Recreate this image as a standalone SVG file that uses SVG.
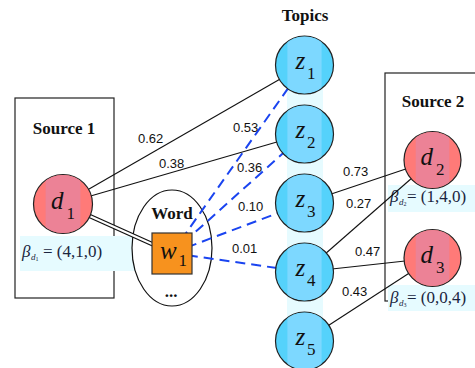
<svg xmlns="http://www.w3.org/2000/svg" width="475" height="368" viewBox="0 0 475 368" font-family="Liberation Serif, serif">
<defs>
<style>
.box{fill:#fff;stroke:#222;stroke-width:1.2}
.hl{fill:#E6FBFF}
.title{font-weight:bold;font-size:17px;fill:#111;text-anchor:middle}
.num{font-family:"Liberation Sans",Arial,sans-serif;font-size:13px;fill:#111}
.solid{stroke:#111;stroke-width:1.1;fill:none}
.dash{stroke:#1A44F0;stroke-width:2;stroke-dasharray:10 6;fill:none}
.dc{fill:#FF7A78;stroke:#222;stroke-width:1.2}
.di{fill:#EC8296}
.zc{fill:#55D2FB;stroke:#222;stroke-width:1.2}
.zi{fill:#7DD8FF}
.lab{font-style:italic;font-size:25px;fill:#111}
.sub{font-size:17px;fill:#111;font-style:normal}
.beta{font-size:17px;fill:#1a2540}
.bsub{font-style:italic;font-size:9px;fill:#1a2540}
.bsub2{font-size:6px;fill:#1a2540}
</style>
<clipPath id="strip" clipPathUnits="objectBoundingBox"><rect x="0.2" y="0" width="0.6" height="1"/></clipPath>
</defs>
<rect x="287" y="60" width="36" height="302" class="hl"/>
<g id="source1">
<rect x="15" y="98" width="99" height="200" class="box"/>
<text x="64" y="134" class="title">Source 1</text>
<rect x="20" y="236" width="125" height="35" class="hl"/>
<text x="22" y="257" class="beta" font-style="italic">β</text>
<text x="31" y="260" class="bsub">d</text>
<text x="35.5" y="261" class="bsub2">1</text>
<text x="43" y="257" class="beta">= (4,1,0)</text>
</g>
<g id="source2">
<rect x="385" y="73" width="100" height="228" class="box"/>
<text x="433" y="107" class="title">Source 2</text>
<rect x="388" y="185" width="90" height="27" class="hl"/>
<text x="390" y="202" class="beta" font-style="italic">β</text>
<text x="399" y="205" class="bsub">d</text>
<text x="403.5" y="206" class="bsub2">2</text>
<text x="407" y="202" class="beta">= (1,4,0)</text>
<rect x="388" y="285" width="90" height="26" class="hl"/>
<text x="390" y="303" class="beta" font-style="italic">β</text>
<text x="399" y="306" class="bsub">d</text>
<text x="403.5" y="307" class="bsub2">3</text>
<text x="407" y="303" class="beta">= (0,0,4)</text>
</g>
<text x="305" y="21" class="title">Topics</text>
<g id="word">
<ellipse cx="172" cy="248" rx="40" ry="58" fill="#fff" stroke="#111" stroke-width="1.2"/>
<text x="172" y="219" class="title">Word</text>
<text x="171" y="297" class="title">...</text>
</g>
<g id="connectors">
<line x1="63" y1="204" x2="304.5" y2="65" class="solid"/>
<line x1="63" y1="204" x2="304.5" y2="134" class="solid"/>
<line x1="63" y1="204" x2="172" y2="253" stroke="#111" stroke-width="4.5"/>
<line x1="63" y1="204" x2="172" y2="253" stroke="#fff" stroke-width="2"/>
<line x1="172" y1="253" x2="304.5" y2="65" class="dash"/>
<line x1="172" y1="253" x2="304.5" y2="134" class="dash"/>
<line x1="172" y1="253" x2="304.5" y2="203" class="dash"/>
<line x1="172" y1="253" x2="304.5" y2="272" class="dash"/>
<line x1="304.5" y1="203" x2="432.5" y2="160" class="solid"/>
<line x1="304.5" y1="272" x2="432.5" y2="160" class="solid"/>
<line x1="304.5" y1="272" x2="432.5" y2="258" class="solid"/>
<line x1="304.5" y1="341" x2="432.5" y2="258" class="solid"/>
<text x="138" y="143" class="num">0.62</text>
<text x="159" y="168" class="num">0.38</text>
<text x="233" y="132" class="num">0.53</text>
<text x="237" y="172" class="num">0.36</text>
<text x="238" y="211" class="num">0.10</text>
<text x="232" y="253" class="num">0.01</text>
<text x="343" y="176" class="num">0.73</text>
<text x="346" y="208" class="num">0.27</text>
<text x="355" y="256" class="num">0.47</text>
<text x="342" y="296" class="num">0.43</text>
</g>
<g id="w1">
<rect x="152" y="233" width="40" height="41" fill="#F7921E" stroke="#333" stroke-width="1.2"/>
<text x="160" y="259" class="lab" font-size="24">w</text>
<text x="178.5" y="266" class="sub" font-size="15">1</text>
</g>
<g id="d1">
<circle cx="63" cy="204" r="29.5" class="dc"/>
<circle cx="63" cy="204" r="29" class="di" clip-path="url(#strip)"/>
<text x="51" y="209" class="lab">d</text>
<text x="66.5" y="219" class="sub">1</text>
</g>
<g id="d2">
<circle cx="432.5" cy="160" r="28.5" class="dc"/>
<circle cx="432.5" cy="160" r="28" class="di" clip-path="url(#strip)"/>
<text x="420.5" y="165" class="lab">d</text>
<text x="436" y="175" class="sub">2</text>
</g>
<g id="d3">
<circle cx="432.5" cy="258" r="28.5" class="dc"/>
<circle cx="432.5" cy="258" r="28" class="di" clip-path="url(#strip)"/>
<text x="420.5" y="263" class="lab">d</text>
<text x="436" y="273" class="sub">3</text>
</g>
<g id="z1">
<circle cx="304.5" cy="65" r="29" class="zc"/>
<circle cx="304.5" cy="65" r="28.5" class="zi" clip-path="url(#strip)"/>
<text x="295.5" y="69" class="lab">z</text>
<text x="307" y="79" class="sub" font-size="16">1</text>
</g>
<g id="z2">
<circle cx="304.5" cy="134" r="29" class="zc"/>
<circle cx="304.5" cy="134" r="28.5" class="zi" clip-path="url(#strip)"/>
<text x="295.5" y="138" class="lab">z</text>
<text x="307" y="148" class="sub" font-size="16">2</text>
</g>
<g id="z3">
<circle cx="304.5" cy="203" r="29" class="zc"/>
<circle cx="304.5" cy="203" r="28.5" class="zi" clip-path="url(#strip)"/>
<text x="295.5" y="207" class="lab">z</text>
<text x="307" y="217" class="sub" font-size="16">3</text>
</g>
<g id="z4">
<circle cx="304.5" cy="272" r="29" class="zc"/>
<circle cx="304.5" cy="272" r="28.5" class="zi" clip-path="url(#strip)"/>
<text x="295.5" y="276" class="lab">z</text>
<text x="307" y="286" class="sub" font-size="16">4</text>
</g>
<g id="z5">
<circle cx="304.5" cy="341" r="29" class="zc"/>
<circle cx="304.5" cy="341" r="28.5" class="zi" clip-path="url(#strip)"/>
<text x="295.5" y="345" class="lab">z</text>
<text x="307" y="355" class="sub" font-size="16">5</text>
</g>
</svg>
